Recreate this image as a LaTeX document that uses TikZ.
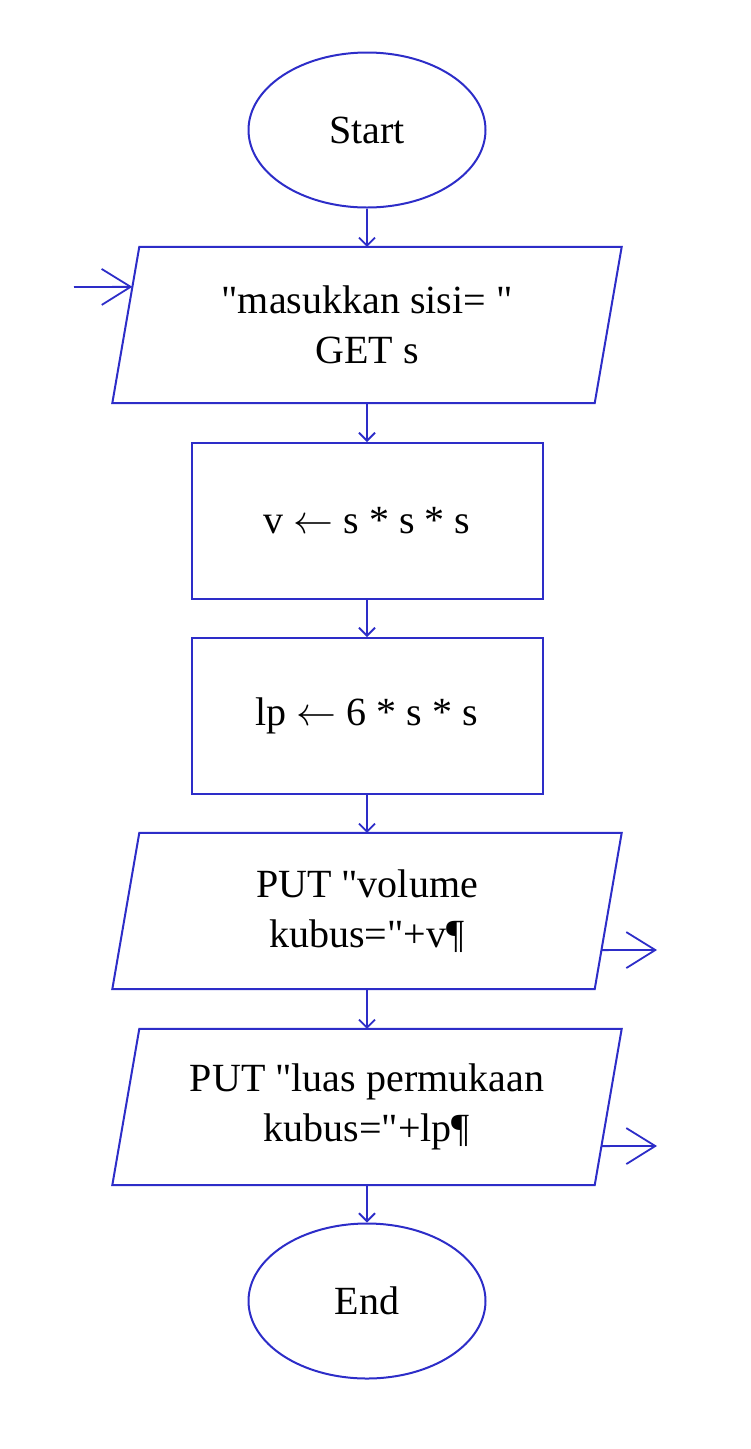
\documentclass[tikz,border=0pt]{standalone}
\usepackage{fontspec}
\setmainfont{Liberation Serif}[Ligatures=TeXOff]
\usepackage{graphicx}
\usepackage{tikz}
\usetikzlibrary{arrows.meta,shapes.geometric,calc}
\definecolor{flowblue}{RGB}{45,45,200}
\newcommand{\assignto}{\scalebox{4}{\normalsize$\leftarrow$}}

\begin{document}
\begin{tikzpicture}[x=1pt, y=-1pt, >={Straight Barb[length=8pt,width=16pt]},
  term/.style={ellipse, draw=flowblue, line width=2pt, minimum width=237pt, minimum height=155pt, inner sep=0pt},
  io/.style={rectangle, minimum width=482pt, minimum height=156pt, inner sep=0pt, align=center},
  iobox/.style={draw=flowblue, line width=2pt, line join=miter},
  proc/.style={rectangle, draw=flowblue, line width=2pt, minimum width=351pt, minimum height=156pt, inner sep=0pt},
  flow/.style={->, draw=flowblue, line width=1.8pt},
  side/.style={-{Straight Barb[length=29pt,width=36pt]}, draw=flowblue, line width=1.8pt},
  font=\fontsize{40}{50}\selectfont]
\useasboundingbox (0,0) rectangle (750,1449);
\node[term] (start) at (367,130) {Start};
\node[io] (getside) at (367,325) {"masukkan sisi= "\\GET s};
\node[proc] (volume) at (367,521) {v \assignto{} s * s * s};
\node[proc] (surface) at (367,716) {lp \assignto{} 6 * s * s};
\node[io] (putvolume) at (367,911) {PUT "volume\\kubus="+v¶};
\node[io] (putsurface) at (367,1107) {PUT "luas permukaan\\kubus="+lp¶};
\node[term] (end) at (367,1301) {End};
% slanted outlines of the input/output boxes
\foreach \n in {getside,putvolume,putsurface} {
  \coordinate (\n-tl) at ([xshift=13.5pt]\n.north west);
  \coordinate (\n-tr) at ([xshift=13.5pt]\n.north east);
  \coordinate (\n-br) at ([xshift=-13.5pt]\n.south east);
  \coordinate (\n-bl) at ([xshift=-13.5pt]\n.south west);
  \draw[iobox] (\n-bl) -- (\n-tl) -- (\n-tr) -- (\n-br) -- cycle;
}
% main flow
\draw[flow] (start) -- (getside);
\draw[flow] (getside) -- (volume);
\draw[flow] (volume) -- (surface);
\draw[flow] (surface) -- (putvolume);
\draw[flow] (putvolume) -- (putsurface);
\draw[flow] (putsurface) -- (end);
% input and output markers
\coordinate (intail) at (74,287);
\coordinate (outtip1) at (657,950);
\coordinate (outtip2) at (657,1146);
\draw[side] (intail) -- ($(getside-tl)!0.256!(getside-bl)$);
\draw[side] ($(putvolume-tr)!0.75!(putvolume-br)$) -- (outtip1);
\draw[side] ($(putsurface-tr)!0.75!(putsurface-br)$) -- (outtip2);
\end{tikzpicture}
\end{document}
